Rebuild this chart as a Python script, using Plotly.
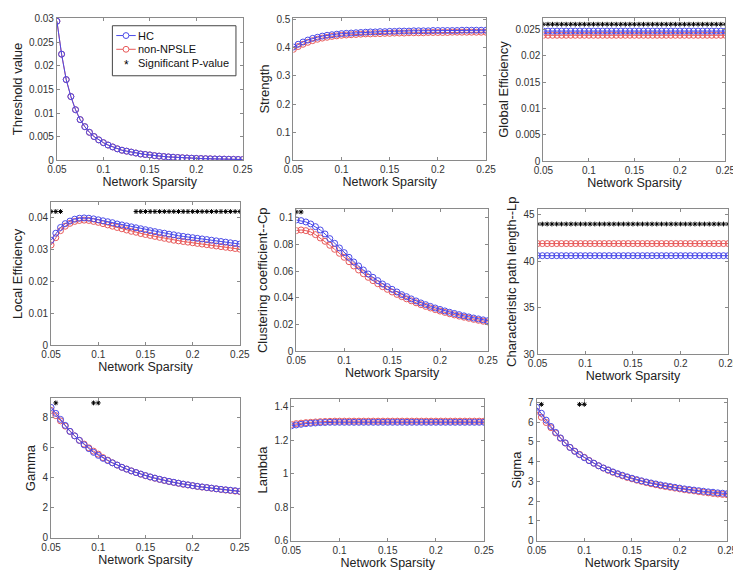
import plotly.graph_objects as go

W, H = 741, 571

# network sparsity levels (0.05 .. 0.25, step 0.005)
sparsity = [0.05, 0.055, 0.06, 0.065, 0.07, 0.075, 0.08, 0.085, 0.09, 0.095,
            0.1, 0.105, 0.11, 0.115, 0.12, 0.125, 0.13, 0.135, 0.14, 0.145,
            0.15, 0.155, 0.16, 0.165, 0.17, 0.175, 0.18, 0.185, 0.19, 0.195,
            0.2, 0.205, 0.21, 0.215, 0.22, 0.225, 0.23, 0.235, 0.24, 0.245, 0.25]

threshold_hc = [0.0295, 0.0225, 0.0171, 0.0135, 0.0107, 0.0086, 0.0071, 0.0059, 0.0050, 0.0043,
                0.0037, 0.0032, 0.0028, 0.0024, 0.0021, 0.0019, 0.0017, 0.0015, 0.0013, 0.0012,
                0.0011, 0.00095, 0.00085, 0.00076, 0.00068, 0.00061, 0.00055, 0.0005, 0.00045, 0.0004,
                0.00036, 0.00033, 0.0003, 0.00027, 0.00024, 0.00022, 0.0002, 0.00018, 0.00016, 0.00014, 0.00012]
threshold_np = [0.0295, 0.0225, 0.0171, 0.0135, 0.0107, 0.0086, 0.0071, 0.0059, 0.0050, 0.0043,
                0.0037, 0.0032, 0.0028, 0.0024, 0.0021, 0.0019, 0.0017, 0.0015, 0.0013, 0.0012,
                0.0011, 0.00095, 0.00085, 0.00076, 0.00068, 0.00061, 0.00055, 0.0005, 0.00045, 0.0004,
                0.00036, 0.00033, 0.0003, 0.00027, 0.00024, 0.00022, 0.0002, 0.00018, 0.00016, 0.00014, 0.00012]

strength_hc = [0.403, 0.413, 0.421, 0.428, 0.434, 0.438, 0.442, 0.445, 0.447, 0.449,
               0.451, 0.452, 0.453, 0.454, 0.455, 0.456, 0.457, 0.457, 0.458, 0.458,
               0.459, 0.459, 0.460, 0.460, 0.460, 0.461, 0.461, 0.461, 0.461, 0.462,
               0.462, 0.462, 0.462, 0.462, 0.462, 0.463, 0.463, 0.463, 0.463, 0.463, 0.463]
strength_np = [0.395, 0.405, 0.413, 0.420, 0.426, 0.431, 0.435, 0.438, 0.441, 0.443,
               0.445, 0.446, 0.447, 0.448, 0.449, 0.450, 0.450, 0.451, 0.451, 0.452,
               0.452, 0.453, 0.453, 0.453, 0.454, 0.454, 0.454, 0.454, 0.455, 0.455,
               0.455, 0.455, 0.455, 0.456, 0.456, 0.456, 0.456, 0.456, 0.456, 0.456, 0.456]

geff_hc = [0.0247] * 41
geff_np = [0.0239] * 41
geff_sig_x = sparsity
geff_sig_y = [0.026] * 41

leff_hc = [0.0330, 0.0352, 0.0370, 0.0382, 0.0390, 0.0396, 0.0399, 0.0400, 0.0399, 0.0397,
           0.0394, 0.0391, 0.0388, 0.0385, 0.0381, 0.0378, 0.0375, 0.0372, 0.0369, 0.0366,
           0.0363, 0.0360, 0.0357, 0.0354, 0.0352, 0.0349, 0.0347, 0.0344, 0.0342, 0.0340,
           0.0338, 0.0336, 0.0334, 0.0332, 0.0330, 0.0328, 0.0326, 0.0324, 0.0322, 0.0320, 0.0318]
leff_np = [0.0315, 0.0338, 0.0360, 0.0374, 0.0383, 0.0389, 0.0392, 0.0393, 0.0392, 0.0389,
           0.0386, 0.0382, 0.0378, 0.0374, 0.0370, 0.0366, 0.0362, 0.0358, 0.0355, 0.0351,
           0.0348, 0.0345, 0.0342, 0.0339, 0.0336, 0.0333, 0.0330, 0.0328, 0.0326, 0.0324,
           0.0322, 0.0320, 0.0318, 0.0316, 0.0314, 0.0312, 0.0310, 0.0308, 0.0306, 0.0304, 0.0302]
leff_sig_x = [0.05, 0.055, 0.06,
              0.14, 0.145, 0.15, 0.155, 0.16, 0.165, 0.17, 0.175, 0.18, 0.185, 0.19, 0.195,
              0.2, 0.205, 0.21, 0.215, 0.22, 0.225, 0.23, 0.235, 0.24, 0.245, 0.25]
leff_sig_y = [0.042] * 26

cp_hc = [0.0985, 0.0980, 0.0970, 0.0955, 0.0935, 0.0910, 0.0880, 0.0845, 0.0810, 0.0775,
         0.0740, 0.0705, 0.0670, 0.0640, 0.0610, 0.0580, 0.0555, 0.0530, 0.0505, 0.0485,
         0.0465, 0.0445, 0.0425, 0.0410, 0.0393, 0.0378, 0.0363, 0.0350, 0.0337, 0.0325,
         0.0314, 0.0303, 0.0293, 0.0284, 0.0275, 0.0266, 0.0258, 0.0250, 0.0243, 0.0236, 0.0230]
cp_np = [0.0905, 0.0910, 0.0905, 0.0895, 0.0875, 0.0850, 0.0825, 0.0795, 0.0765, 0.0735,
         0.0705, 0.0672, 0.0640, 0.0610, 0.0582, 0.0555, 0.0530, 0.0507, 0.0485, 0.0465,
         0.0445, 0.0427, 0.0410, 0.0394, 0.0379, 0.0364, 0.0350, 0.0337, 0.0325, 0.0313,
         0.0302, 0.0292, 0.0282, 0.0273, 0.0264, 0.0256, 0.0248, 0.0240, 0.0233, 0.0226, 0.0220]
cp_sig_x = [0.05, 0.055]
cp_sig_y = [0.1045, 0.1045]

lp_hc = [40.6] * 41
lp_np = [41.9] * 41
lp_sig_x = sparsity
lp_sig_y = [44.0] * 41

gamma_hc = [8.70, 8.30, 7.90, 7.50, 7.10, 6.80, 6.50, 6.20, 5.95, 5.70,
            5.50, 5.30, 5.15, 5.00, 4.85, 4.70, 4.58, 4.46, 4.35, 4.25,
            4.15, 4.06, 3.98, 3.90, 3.83, 3.76, 3.70, 3.64, 3.58, 3.53,
            3.48, 3.43, 3.39, 3.35, 3.31, 3.27, 3.23, 3.20, 3.17, 3.14, 3.10]
gamma_np = [8.50, 8.15, 7.80, 7.45, 7.10, 6.80, 6.50, 6.25, 6.00, 5.78,
            5.58, 5.35, 5.18, 5.00, 4.85, 4.70, 4.58, 4.46, 4.35, 4.24,
            4.14, 4.05, 3.97, 3.89, 3.82, 3.75, 3.69, 3.63, 3.57, 3.52,
            3.47, 3.42, 3.38, 3.34, 3.30, 3.26, 3.22, 3.18, 3.15, 3.11, 3.08]
gamma_sig_x = [0.055, 0.095, 0.1]
gamma_sig_y = [9.0, 9.0, 9.0]

lambda_hc = [1.287, 1.292, 1.296, 1.300, 1.302, 1.304, 1.306, 1.307, 1.308, 1.308,
             1.308, 1.308, 1.308, 1.308, 1.308, 1.308, 1.308, 1.308, 1.308, 1.308,
             1.308, 1.308, 1.308, 1.308, 1.308, 1.308, 1.308, 1.308, 1.308, 1.308,
             1.308, 1.308, 1.308, 1.308, 1.308, 1.308, 1.308, 1.308, 1.308, 1.308, 1.308]
lambda_np = [1.295, 1.300, 1.303, 1.306, 1.308, 1.310, 1.312, 1.313, 1.314, 1.315,
             1.315, 1.315, 1.315, 1.315, 1.315, 1.315, 1.315, 1.315, 1.315, 1.315,
             1.315, 1.315, 1.315, 1.315, 1.315, 1.315, 1.315, 1.315, 1.315, 1.315,
             1.315, 1.315, 1.315, 1.315, 1.315, 1.315, 1.315, 1.315, 1.315, 1.315, 1.315]

sigma_hc = [6.75, 6.45, 6.10, 5.78, 5.48, 5.20, 4.95, 4.72, 4.52, 4.35,
            4.20, 4.05, 3.92, 3.79, 3.68, 3.58, 3.48, 3.39, 3.31, 3.23,
            3.16, 3.09, 3.03, 2.97, 2.92, 2.87, 2.82, 2.78, 2.74, 2.70,
            2.66, 2.62, 2.59, 2.56, 2.53, 2.50, 2.47, 2.45, 2.42, 2.40, 2.38]
sigma_np = [6.55, 6.25, 5.98, 5.72, 5.45, 5.18, 4.94, 4.72, 4.53, 4.37,
            4.22, 4.06, 3.92, 3.79, 3.67, 3.56, 3.46, 3.37, 3.28, 3.20,
            3.13, 3.06, 3.00, 2.94, 2.88, 2.83, 2.78, 2.74, 2.70, 2.66,
            2.62, 2.58, 2.55, 2.52, 2.48, 2.45, 2.42, 2.39, 2.36, 2.34, 2.32]
sigma_sig_x = [0.055, 0.095, 0.1]
sigma_sig_y = [6.9, 6.9, 6.9]

x_ticks = [0.05, 0.1, 0.15, 0.2, 0.25]
x_ticktext = ["0.05", "0.1", "0.15", "0.2", "0.25"]

legend_labels = ["HC", "non-NPSLE", "Significant P-value"]

HC_COLOR = "#4a4ae8"
NP_COLOR = "#e85a5a"
AXIS_COLOR = "#8a8a8a"
FONT = "Liberation Sans, Arial, sans-serif"

# panel boxes in pixels: (left, right, top, bottom)
panels = [
  dict(title="Threshold value", hc=threshold_hc, np=threshold_np, sig=None,
       box=(40, 231, 5, 150), yrange=[0, 0.0302],
       yticks=[0, 0.005, 0.01, 0.015, 0.02, 0.025, 0.03],
       ytext=["0", "0.005", "0.01", "0.015", "0.02", "0.025", "0.03"]),
  dict(title="Strength", hc=strength_hc, np=strength_np, sig=None,
       box=(283, 481, 5, 150), yrange=[0, 0.507],
       yticks=[0, 0.1, 0.2, 0.3, 0.4, 0.5],
       ytext=["0", "0.1", "0.2", "0.3", "0.4", "0.5"]),
  dict(title="Global Efficiency", hc=geff_hc, np=geff_np, sig=(geff_sig_x, geff_sig_y),
       box=(540, 727, 5, 151), yrange=[0, 0.0272],
       yticks=[0, 0.005, 0.01, 0.015, 0.02, 0.025],
       ytext=["0", "0.005", "0.01", "0.015", "0.02", "0.025"]),
  dict(title="Local Efficiency", hc=leff_hc, np=leff_np, sig=(leff_sig_x, leff_sig_y),
       box=(34, 228, 193, 339), yrange=[0, 0.0449],
       yticks=[0, 0.01, 0.02, 0.03, 0.04],
       ytext=["0", "0.01", "0.02", "0.03", "0.04"]),
  dict(title="Clustering coefficient--Cp", hc=cp_hc, np=cp_np, sig=(cp_sig_x, cp_sig_y),
       box=(286, 483, 200, 345), yrange=[0, 0.1066],
       yticks=[0, 0.02, 0.04, 0.06, 0.08, 0.1],
       ytext=["0", "0.02", "0.04", "0.06", "0.08", "0.1"]),
  dict(title="Characteristic path length--Lp", hc=lp_hc, np=lp_np, sig=(lp_sig_x, lp_sig_y),
       box=(534, 730, 200, 348), yrange=[30, 45.6],
       yticks=[30, 35, 40, 45], ytext=["30", "35", "40", "45"]),
  dict(title="Gamma", hc=gamma_hc, np=gamma_np, sig=(gamma_sig_x, gamma_sig_y),
       box=(34, 228, 393, 535), yrange=[0, 9.3],
       yticks=[0, 2, 4, 6, 8], ytext=["0", "2", "4", "6", "8"]),
  dict(title="Lambda", hc=lambda_hc, np=lambda_np, sig=None,
       box=(281, 479, 394, 538), yrange=[0.6, 1.445],
       yticks=[0.6, 0.8, 1, 1.2, 1.4], ytext=["0.6", "0.8", "1", "1.2", "1.4"]),
  dict(title="Sigma", hc=sigma_hc, np=sigma_np, sig=(sigma_sig_x, sigma_sig_y),
       box=(533, 729, 394, 538), yrange=[0, 7.15],
       yticks=[0, 1, 2, 3, 4, 5, 6, 7], ytext=["0", "1", "2", "3", "4", "5", "6", "7"]),
]

fig = go.Figure()
layout = {}

for i, p in enumerate(panels):
  n = "" if i == 0 else str(i + 1)
  xa, ya = "x" + n, "y" + n

  fig.add_trace(go.Scatter(
    x=sparsity, y=p["np"], xaxis=xa, yaxis=ya,
    mode="lines+markers", name="non-NPSLE", showlegend=False,
    line=dict(color=NP_COLOR, width=1),
    marker=dict(symbol="circle-open", size=6, color=NP_COLOR, line=dict(width=1))
  ))
  fig.add_trace(go.Scatter(
    x=sparsity, y=p["hc"], xaxis=xa, yaxis=ya,
    mode="lines+markers", name="HC", showlegend=False,
    line=dict(color=HC_COLOR, width=1),
    marker=dict(symbol="circle-open", size=6, color=HC_COLOR, line=dict(width=1))
  ))
  if p["sig"] is not None:
    fig.add_trace(go.Scatter(
      x=p["sig"][0], y=p["sig"][1], xaxis=xa, yaxis=ya,
      mode="markers", name="Significant P-value", showlegend=False,
      marker=dict(symbol="asterisk-open", size=4, color="black", line=dict(width=1, color="black"))
    ))

  l, r, t, b = p["box"]
  common = dict(showline=True, linecolor=AXIS_COLOR, linewidth=1, mirror="ticks",
                ticks="inside", ticklen=3, tickcolor=AXIS_COLOR, showgrid=False,
                zeroline=False, ticklabeloverflow="allow",
                tickfont=dict(size=10, color="#333333"))
  layout["xaxis" + n] = dict(
    domain=[l / W, r / W], anchor=ya, range=[0.05, 0.25],
    tickvals=x_ticks, ticktext=x_ticktext,
    title=dict(text="Network Sparsity", font=dict(size=12.5, color="#222222"), standoff=0),
    **common)
  layout["yaxis" + n] = dict(
    domain=[1 - b / H, 1 - t / H], anchor=xa, range=p["yrange"],
    tickvals=p["yticks"], ticktext=p["ytext"],
    title=dict(text=p["title"], font=dict(size=13, color="#222222"), standoff=3),
    **common)

# hand-drawn legend box inside the first panel (paper pixel coords)
def px(x):
  return x / W

def py(y):
  return 1 - y / H

shapes = [dict(type="rect", xref="paper", yref="paper",
               x0=px(97), x1=px(224), y0=py(64), y1=py(13),
               line=dict(color="#444444", width=1), fillcolor="white", layer="above")]
annotations = []
rows_y = [23, 37, 51]
sample_colors = [HC_COLOR, NP_COLOR]
for k, label in enumerate(legend_labels):
  yy = rows_y[k]
  if k < 2:
    shapes.append(dict(type="line", xref="paper", yref="paper",
                       x0=px(101), x1=px(121), y0=py(yy), y1=py(yy),
                       line=dict(color=sample_colors[k], width=1), layer="above"))
    shapes.append(dict(type="circle", xref="paper", yref="paper",
                       x0=px(108), x1=px(114), y0=py(yy + 3), y1=py(yy - 3),
                       line=dict(color=sample_colors[k], width=1), fillcolor="white", layer="above"))
  else:
    annotations.append(dict(xref="paper", yref="paper", x=px(111), y=py(yy + 2),
                            text="*", showarrow=False, xanchor="center", yanchor="middle",
                            font=dict(size=12, color="black")))
  annotations.append(dict(xref="paper", yref="paper", x=px(121), y=py(yy),
                          text=label, showarrow=False, xanchor="left", yanchor="middle",
                          font=dict(size=11, color="#111111")))

fig.update_layout(
  width=W, height=H,
  margin=dict(l=0, r=0, t=0, b=0),
  paper_bgcolor="white", plot_bgcolor="white",
  font=dict(family=FONT, size=11, color="#222222"),
  showlegend=False,
  shapes=shapes,
  annotations=annotations,
  **layout
)

fig.write_html("out.html")
